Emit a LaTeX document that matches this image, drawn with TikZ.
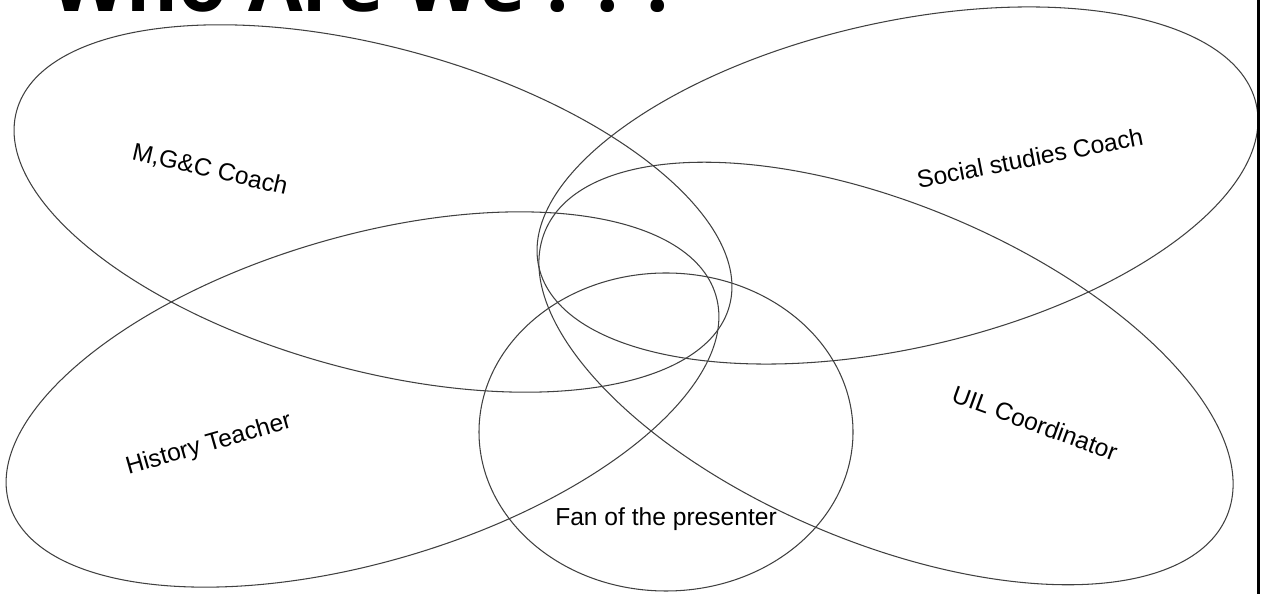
\documentclass[tikz,border=0pt]{standalone}
\usepackage{fontspec}
\setmainfont{Liberation Sans}
\newfontfamily\titlefont{Open Sans}
\usepackage{tikz}

\begin{document}
\begin{tikzpicture}[x=0.02cm,y=0.02cm,
    ring/.style={draw=black!75,line width=0.6pt},
    lbl/.style={font=\fontsize{14}{16}\selectfont,inner sep=0pt}]
\useasboundingbox (0,0) rectangle (1267,594);
\clip (0,0) rectangle (1267,594);
% title, cut off at the top
\node[anchor=base west,inner sep=0pt,font=\titlefont\bfseries\fontsize{45}{50}\selectfont] (title) at (50,582) {Who Are We . . .};
% the five sets
\draw[ring,rotate around={-15.3:(373,385.5)}] (373,385.5) ellipse (369.5 and 161.4);
\draw[ring,rotate around={12.8:(897.5,408.5)}] (897.5,408.5) ellipse (367.8 and 162.9);
\draw[ring,rotate around={16.4:(362.5,194.5)}] (362.5,194.5) ellipse (368.4 and 162.8);
\draw[ring,rotate around={-22.7:(886,220.5)}] (886,220.5) ellipse (369.5 and 169);
\draw[ring] (666,162) ellipse (187 and 159);
% labels
\node[lbl,rotate=-13] (mgc) at (210,424) {M,G\&C Coach};
\node[lbl,rotate=11] (social) at (1030,436) {Social studies Coach};
\node[lbl,rotate=16] (history) at (209,149) {History Teacher};
\node[lbl,rotate=-20] (uil) at (1035,171) {UIL Coordinator};
\node[lbl] (fan) at (666,75) {Fan of the presenter};
% right border
\draw[line width=1.7pt] (1258,0) -- (1258,594);
\end{tikzpicture}
\end{document}
